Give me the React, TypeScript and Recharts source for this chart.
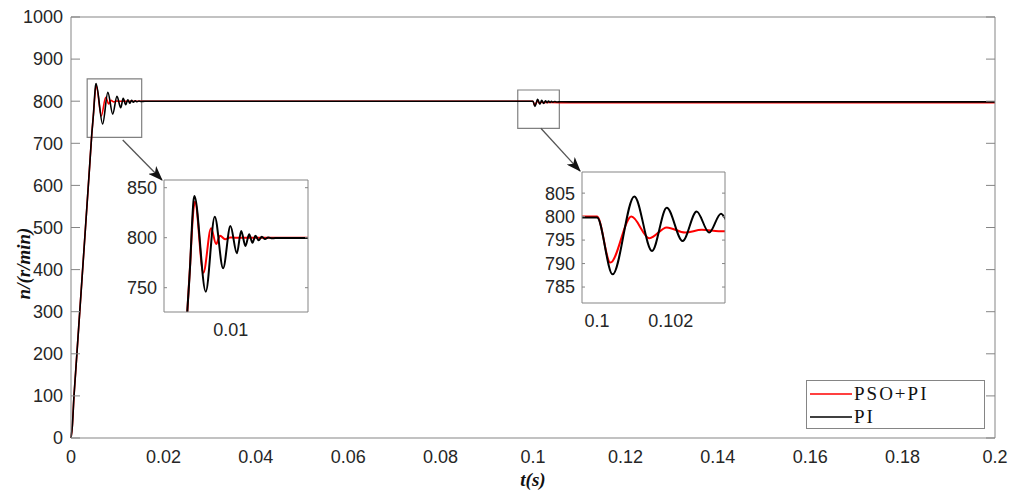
import React from "react";
import { LineChart, Line, XAxis, YAxis, ReferenceArea, ReferenceLine, Legend } from "recharts";

// main axes
const timeTicks = [0, 0.02, 0.04, 0.06, 0.08, 0.1, 0.12, 0.14, 0.16, 0.18, 0.2];
const speedTicks = [0, 100, 200, 300, 400, 500, 600, 700, 800, 900, 1000];

// legend order
const seriesNames = ["PSO+PI", "PI"];

// PSO+PI response (red)
const psoTime = [
  0, 0.0003, 0.00065, 0.001, 0.002, 0.003, 0.004, 0.0045, 0.0049, 0.0051, 0.0053, 0.0055,
  0.00655, 0.00752, 0.00815, 0.00865, 0.00928, 0.0099, 0.0105, 0.02, 0.05, 0.08, 0.1,
  0.10036, 0.10093, 0.10142, 0.10189, 0.10239, 0.10284, 0.1033, 0.104, 0.106, 0.12, 0.15, 0.2,
];
const psoSpeed = [
  0, 30, 100, 156, 317, 478, 640, 722, 775, 805, 828, 836,
  765, 809.4, 793.7, 802, 798.4, 800.3, 800, 800, 800, 800, 800,
  790.2, 800, 795.4, 797.7, 796.6, 797.2, 796.9, 796.8, 796.7, 796.7, 796.7, 796.7,
];

// PI response (black)
const piTime = [
  0, 0.0003, 0.00065, 0.001, 0.002, 0.003, 0.004, 0.0045, 0.0049, 0.0051, 0.0053, 0.00542,
  0.00685, 0.00798, 0.00903, 0.00995, 0.01076, 0.0113, 0.01184, 0.0123, 0.01272, 0.0131,
  0.0135, 0.0139, 0.0143, 0.0147, 0.0152, 0.016, 0.03, 0.06, 0.09, 0.1,
  0.10042, 0.10101, 0.10149, 0.10189, 0.10232, 0.1027, 0.10304, 0.10336, 0.10368, 0.104,
  0.1043, 0.1047, 0.1052, 0.106, 0.11, 0.15, 0.2,
];
const piSpeed = [
  0, 30, 100, 156, 317, 478, 640, 722, 775, 810, 836, 841.7,
  746, 821, 769.4, 811.7, 784.4, 806.7, 791.7, 803.4, 795, 802,
  797.5, 801, 798.6, 800.3, 799.4, 799.8, 799.8, 799.8, 799.8, 799.8,
  787.7, 804.3, 792.7, 801.9, 794.8, 801.1, 796.6, 800.6, 797.2, 799.6,
  797.8, 799.2, 798, 798.6, 798.3, 798.3, 798.3,
];

// zoom windows
const zoom1Time = [0.0016, 0.0197];
const zoom1Speed = [725.7, 857.7];
const zoom1TimeTicks = [0.005, 0.01, 0.015];
const zoom1SpeedTicks = [750, 800, 850];
const zoom1Box = { t: [0.0035, 0.0153], n: [714, 853] };
const zoom1Arrow = { from: [0.0112, 708], to: [0.0197, 613] };

const zoom2Time = [0.09959, 0.10347];
const zoom2Speed = [781.6, 809.5];
const zoom2TimeTicks = [0.1, 0.102];
const zoom2SpeedTicks = [785, 790, 795, 800, 805];
const zoom2Box = { t: [0.0967, 0.1057], n: [735.6, 826.6] };
const zoom2Arrow = { from: [0.1017, 735.6], to: [0.1102, 634] };

const psoData = psoTime.map((t, i) => ({ t, n: psoSpeed[i] }));
const piData = piTime.map((t, i) => ({ t, n: piSpeed[i] }));

const RED = "#ff0000";
const BLACK = "#000000";
const axisColor = "#858585";
const sansFont = "'Liberation Sans', Arial, sans-serif";
const serifFont = "'Liberation Serif', 'Times New Roman', serif";
const tickStyle = { fontSize: 18, fill: "#262626", fontFamily: sansFont };
const blank = () => "";

function Arrow(props: any) {
  const { x1, y1, x2, y2 } = props;
  const id = `head-${Math.round(x1)}`;
  return (
    <g>
      <defs>
        <marker id={id} markerWidth={15} markerHeight={11} refX={14} refY={5.5} orient="auto" markerUnits="userSpaceOnUse">
          <path d="M0,0 L15,5.5 L0,11 L4,5.5 Z" fill="#111" />
        </marker>
      </defs>
      <line x1={x1} y1={y1} x2={x2} y2={y2} stroke="#555" strokeWidth={1.3} markerEnd={`url(#${id})`} />
    </g>
  );
}

function LegendBox(props: any) {
  const items = [...(props.payload || [])].sort(
    (a: any, b: any) => seriesNames.indexOf(a.value) - seriesNames.indexOf(b.value)
  );
  return (
    <div
      style={{
        width: 179,
        height: 49,
        boxSizing: "border-box",
        border: `1px solid ${axisColor}`,
        background: "#fff",
        paddingTop: 1,
      }}
    >
      {items.map((it: any) => (
        <div key={it.value} style={{ display: "flex", alignItems: "center", height: 23 }}>
          <svg width={46} height={4} style={{ display: "block" }}>
            <line x1={3} x2={45} y1={2} y2={2} stroke={it.color} strokeWidth={1.5} />
          </svg>
          <span
            style={{
              fontFamily: serifFont,
              fontSize: 19,
              letterSpacing: 2,
              color: "#111",
              marginLeft: 1,
              lineHeight: "23px",
            }}
          >
            {it.value}
          </span>
        </div>
      ))}
    </div>
  );
}

function frameAxes(id: string, tDomain: number[], nDomain: number[], tTicks: number[], nTicks: number[], len: number) {
  const common = { stroke: axisColor, tickFormatter: blank, interval: 0 as const, allowDataOverflow: true };
  return [
    <XAxis key="xb" xAxisId={id + "xb"} type="number" domain={tDomain} ticks={tTicks} mirror tickSize={len} axisLine={false} {...common} />,
    <XAxis key="xt" xAxisId={id + "xt"} orientation="top" type="number" domain={tDomain} ticks={tTicks} mirror tickSize={len} {...common} />,
    <YAxis key="yl" yAxisId={id + "yl"} type="number" domain={nDomain} ticks={nTicks} mirror tickSize={len} axisLine={false} {...common} />,
    <YAxis key="yr" yAxisId={id + "yr"} orientation="right" type="number" domain={nDomain} ticks={nTicks} mirror tickSize={len} {...common} />,
  ];
}

function Inset(props: {
  left: number;
  top: number;
  plotWidth: number;
  plotHeight: number;
  tDomain: number[];
  nDomain: number[];
  tTicks: number[];
  nTicks: number[];
  tFormat: (v: number) => string;
}) {
  const yw = 45;
  const xh = 34;
  return (
    <div style={{ position: "absolute", left: props.left - yw, top: props.top - 2 }}>
      <LineChart
        width={yw + props.plotWidth + 2}
        height={props.plotHeight + xh + 2}
        margin={{ top: 2, right: 2, bottom: 0, left: 0 }}
      >
        <XAxis
          xAxisId="x"
          dataKey="t"
          type="number"
          domain={props.tDomain}
          ticks={props.tTicks}
          interval={0}
          allowDataOverflow
          tickSize={0}
          tickMargin={11}
          height={xh}
          tick={tickStyle}
          tickFormatter={props.tFormat}
          stroke={axisColor}
        />
        <YAxis
          yAxisId="y"
          type="number"
          domain={props.nDomain}
          ticks={props.nTicks}
          interval={0}
          allowDataOverflow
          tickSize={0}
          tickMargin={7}
          width={yw}
          tick={tickStyle}
          stroke={axisColor}
        />
        {frameAxes("f", props.tDomain, props.nDomain, props.tTicks, props.nTicks, 3)}
        <Line xAxisId="x" yAxisId="y" data={psoData} dataKey="n" type="monotone" stroke={RED} strokeWidth={2} dot={false} isAnimationActive={false} />
        <Line xAxisId="x" yAxisId="y" data={piData} dataKey="n" type="monotone" stroke={BLACK} strokeWidth={2} dot={false} isAnimationActive={false} />
      </LineChart>
    </div>
  );
}

export default function App() {
  return (
    <div style={{ position: "absolute", left: 0, top: 0, width: 1021, height: 496, background: "#fff" }}>
      <LineChart width={1021} height={496} margin={{ top: 17, right: 26, bottom: 28, left: 31 }}>
        <XAxis
          xAxisId="x"
          dataKey="t"
          type="number"
          domain={[0, 0.2]}
          ticks={timeTicks}
          interval={0}
          tickSize={0}
          tickMargin={12}
          height={30}
          tick={tickStyle}
          stroke={axisColor}
          label={{
            content: (p: any) => {
              const vb = p.viewBox || { x: 71, y: 438, width: 924, height: 30 };
              return (
                <text
                  x={vb.x + vb.width / 2}
                  y={vb.y + vb.height + 11}
                  textAnchor="middle"
                  dominantBaseline="central"
                  fontFamily={serifFont}
                  fontStyle="italic"
                  fontWeight="bold"
                  fontSize={19}
                  fill="#111"
                >
                  t(s)
                </text>
              );
            },
          }}
        />
        <YAxis
          yAxisId="y"
          type="number"
          domain={[0, 1000]}
          ticks={speedTicks}
          interval={0}
          tickSize={0}
          tickMargin={8}
          width={40}
          tick={tickStyle}
          stroke={axisColor}
          label={{
            content: (p: any) => {
              const vb = p.viewBox || { x: 31, y: 17, width: 40, height: 421 };
              const cx = vb.x - 8;
              const cy = vb.y + vb.height / 2 + 36;
              return (
                <text
                  x={cx}
                  y={cy}
                  transform={`rotate(-90 ${cx} ${cy})`}
                  textAnchor="middle"
                  dominantBaseline="central"
                  fontFamily={serifFont}
                  fontStyle="italic"
                  fontWeight="bold"
                  fontSize={19}
                  fill="#111"
                >
                  n/(r/min)
                </text>
              );
            },
          }}
        />
        {frameAxes("m", [0, 0.2], [0, 1000], timeTicks, speedTicks, 9)}
        <ReferenceArea xAxisId="x" yAxisId="y" x1={zoom1Box.t[0]} x2={zoom1Box.t[1]} y1={zoom1Box.n[0]} y2={zoom1Box.n[1]} stroke="#808080" strokeWidth={1.2} fill="none" fillOpacity={0} />
        <ReferenceArea xAxisId="x" yAxisId="y" x1={zoom2Box.t[0]} x2={zoom2Box.t[1]} y1={zoom2Box.n[0]} y2={zoom2Box.n[1]} stroke="#808080" strokeWidth={1.2} fill="none" fillOpacity={0} />
        <ReferenceLine
          xAxisId="x"
          yAxisId="y"
          segment={[
            { x: zoom1Arrow.from[0], y: zoom1Arrow.from[1] },
            { x: zoom1Arrow.to[0], y: zoom1Arrow.to[1] },
          ]}
          shape={(p: any) => <Arrow {...p} />}
        />
        <ReferenceLine
          xAxisId="x"
          yAxisId="y"
          segment={[
            { x: zoom2Arrow.from[0], y: zoom2Arrow.from[1] },
            { x: zoom2Arrow.to[0], y: zoom2Arrow.to[1] },
          ]}
          shape={(p: any) => <Arrow {...p} />}
        />
        <Line xAxisId="x" yAxisId="y" data={psoData} dataKey="n" name="PSO+PI" type="monotone" stroke={RED} strokeWidth={1.6} dot={false} isAnimationActive={false} />
        <Line xAxisId="x" yAxisId="y" data={piData} dataKey="n" name="PI" type="monotone" stroke={BLACK} strokeWidth={1.6} dot={false} isAnimationActive={false} />
        <Legend
          layout="horizontal"
          verticalAlign="middle"
          align="center"
          content={(p: any) => <LegendBox {...p} />}
          wrapperStyle={{ left: 806, top: 380, width: 179, height: 49 }}
        />
      </LineChart>
      <Inset
        left={164}
        top={180}
        plotWidth={144}
        plotHeight={132}
        tDomain={zoom1Time}
        nDomain={zoom1Speed}
        tTicks={zoom1TimeTicks}
        nTicks={zoom1SpeedTicks}
        tFormat={(v) => (v === 0.01 ? "0.01" : "")}
      />
      <Inset
        left={582}
        top={172}
        plotWidth={143}
        plotHeight={131}
        tDomain={zoom2Time}
        nDomain={zoom2Speed}
        tTicks={zoom2TimeTicks}
        nTicks={zoom2SpeedTicks}
        tFormat={(v) => String(v)}
      />
    </div>
  );
}
